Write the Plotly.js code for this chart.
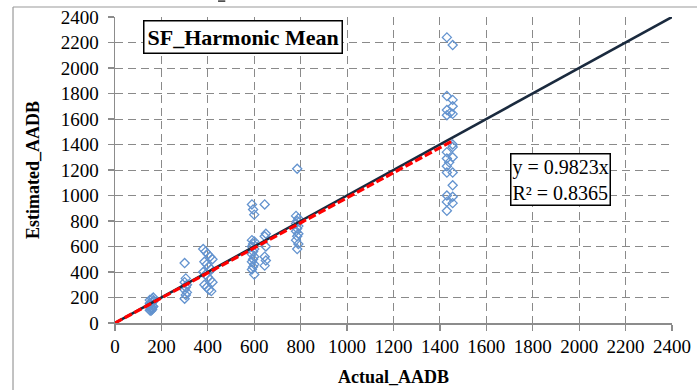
<!DOCTYPE html>
<html>
<head>
<meta charset="utf-8">
<script src="https://cdn.plot.ly/plotly-3.0.1.min.js"></script>
<style>html,body{margin:0;padding:0;background:#fff;}#chart{width:697px;height:390px;}</style>
</head>
<body>
<div id="chart"></div>
<script>
// Observed data (Actual_AADB, Estimated_AADB)
const actualAADB = [
  150,155,160,165,150,155,160,165,150,160,165,155,160,150,165,155,160,
  300,305,300,310,305,300,310,305,300,
  380,390,400,410,420,385,395,405,415,380,390,400,410,420,385,395,405,415,
  590,595,600,590,600,595,590,600,595,590,600,595,590,600,595,590,600,
  645,650,645,650,645,650,645,
  785,780,790,785,780,790,785,780,790,785,780,790,785,
  1430,1455,1430,1455,1455,1430,1445,1430,1455,1455,1455,1430,1455,1430,1440,1430,1430,1455,1455,1430,1455,1430,1455,1430
];
const estimatedAADB = [
  100,110,120,130,140,150,160,170,180,190,200,120,135,155,175,95,105,
  470,350,320,300,280,260,240,220,190,
  580,560,540,520,500,480,460,440,420,400,380,360,340,320,300,280,260,250,
  930,890,850,650,640,620,600,580,560,540,520,500,480,460,440,420,380,
  930,700,680,600,520,490,450,
  1210,840,820,800,780,760,740,720,700,680,650,620,580,
  2240,2180,1780,1750,1700,1670,1650,1630,1640,1400,1380,1340,1300,1290,1260,1230,1180,1180,1080,1000,990,950,940,880
];
// Reference line y = x and fitted trend y = 0.9823x
const equalityX = [0, 2400];
const equalityY = [0, 2400];
const trendSlope = 0.9823;
const trendX = [0, 1460];
const trendY = trendX.map(v => v * trendSlope);
const tickVals = [0,200,400,600,800,1000,1200,1400,1600,1800,2000,2200,2400];
const chartLabel = 'SF_Harmonic Mean';
const eqLabel = 'y = 0.9823x<br>R² = 0.8365';

const serif = '"Liberation Serif", "Times New Roman", serif';
const axisCommon = {
  range: [0, 2400], tickvals: tickVals, ticks: 'outside', ticklen: 6, tickwidth: 1.3,
  tickcolor: '#8c8c8c', showline: true, linecolor: '#8c8c8c', linewidth: 1.5,
  showgrid: true, gridcolor: '#8a8a8a', griddash: '8px,5px', gridwidth: 1,
  zeroline: false, tickfont: {family: serif, size: 19, color: '#000'}, fixedrange: true
};

const traces = [
  {x: actualAADB, y: estimatedAADB, type: 'scatter', mode: 'markers',
   marker: {symbol: 'diamond-open', size: 7, color: '#6393cf', line: {width: 1.3, color: '#6393cf'}}},
  {x: equalityX, y: equalityY, type: 'scatter', mode: 'lines',
   line: {color: '#1a2a3e', width: 2.6}},
  {x: trendX, y: trendY, type: 'scatter', mode: 'lines',
   line: {color: '#ff0000', width: 3.2, dash: '8px,3px'}}
];

const layout = {
  width: 697, height: 390,
  margin: {l: 115, r: 25, t: 17, b: 67},
  paper_bgcolor: '#fff', plot_bgcolor: '#fff',
  showlegend: false,
  xaxis: Object.assign({}, axisCommon, {
    ticklabelstandoff: 0,
    title: {text: 'Actual_AADB', font: {family: serif, size: 18, color: '#000', weight: 'bold'}, standoff: 14}
  }),
  yaxis: Object.assign({}, axisCommon, {
    ticklabelstandoff: 5,
    title: {text: 'Estimated_AADB', font: {family: serif, size: 18, color: '#000', weight: 'bold'}, standoff: 16}
  }),
  annotations: [
    {xref: 'paper', yref: 'paper', x: 0.0502, y: 0.99, xanchor: 'left', yanchor: 'top',
     text: '<b>' + chartLabel + '</b>', showarrow: false,
     font: {family: serif, size: 22, color: '#000'},
     bordercolor: '#000', borderwidth: 1.5, borderpad: 3, bgcolor: '#fff'},
    {xref: 'paper', yref: 'paper', x: 0.7087, y: 0.555, xanchor: 'left', yanchor: 'top',
     text: eqLabel, showarrow: false, align: 'left',
     font: {family: serif, size: 20, color: '#000'},
     bordercolor: '#000', borderwidth: 1.5, borderpad: 1, bgcolor: '#fff'}
  ],
  shapes: [
    {type: 'line', xref: 'paper', yref: 'paper', x0: -0.1831, x1: 1.05, y0: 1.0327, y1: 1.0327,
     line: {color: '#9a9a9a', width: 1.2}},
    {type: 'line', xref: 'paper', yref: 'paper', x0: -0.1831, x1: -0.1831, y0: 1.0327, y1: -0.22,
     line: {color: '#9a9a9a', width: 1.2}},
    {type: 'line', xref: 'paper', yref: 'paper', x0: 0.185, x1: 0.198, y0: 1.052, y1: 1.052,
     line: {color: '#000', width: 1.2}}
  ]
};

Plotly.newPlot('chart', traces, layout, {displayModeBar: false, staticPlot: true});
</script>
</body>
</html>
